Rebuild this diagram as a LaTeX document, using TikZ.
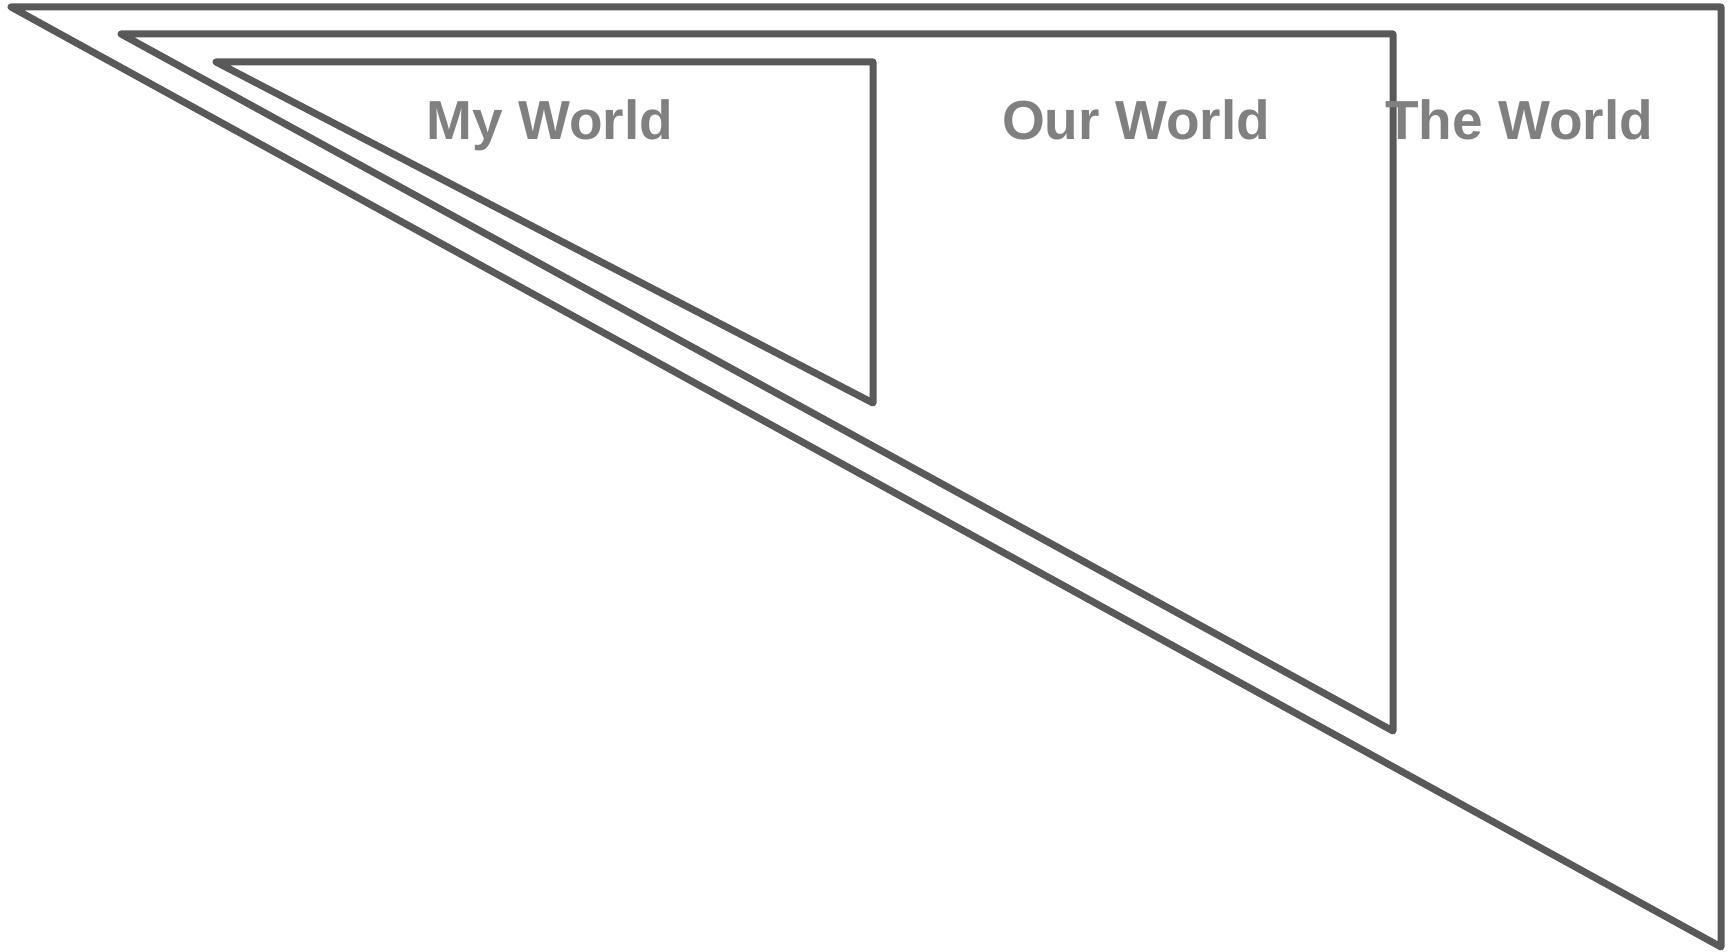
\documentclass[tikz,border=0pt]{standalone}
\usepackage{fontspec}
\setmainfont{Liberation Sans}
\definecolor{edge}{HTML}{595959}
\definecolor{lbl}{HTML}{808080}
\tikzset{
  tri/.style={draw=edge, line width=7pt, line join=round, line cap=round},
  lab/.style={text=lbl, font=\fontsize{55}{60}\selectfont\bfseries, anchor=base, inner sep=0pt}
}
\begin{document}
\begin{tikzpicture}[x=1pt,y=-1pt]
\useasboundingbox (0,0) rectangle (1735,952);
\coordinate (o1) at (11,7);
\coordinate (o2) at (1721,7);
\coordinate (o3) at (1721,947);
\coordinate (m1) at (121,34);
\coordinate (m2) at (1393,34);
\coordinate (m3) at (1393,731);
\coordinate (i1) at (216,62);
\coordinate (i2) at (873,62);
\coordinate (i3) at (873,403);
\draw[tri] (o1) -- (o2) -- (o3) -- cycle;
\draw[tri] (m1) -- (m2) -- (m3) -- cycle;
\draw[tri] (i1) -- (i2) -- (i3) -- cycle;
\node[lab] (my) at (550,139.5) {My World};
\node[lab] (our) at (1136,139.5) {Our World};
\node[lab] (the) at (1519,139.5) {The World};
\end{tikzpicture}
\end{document}
